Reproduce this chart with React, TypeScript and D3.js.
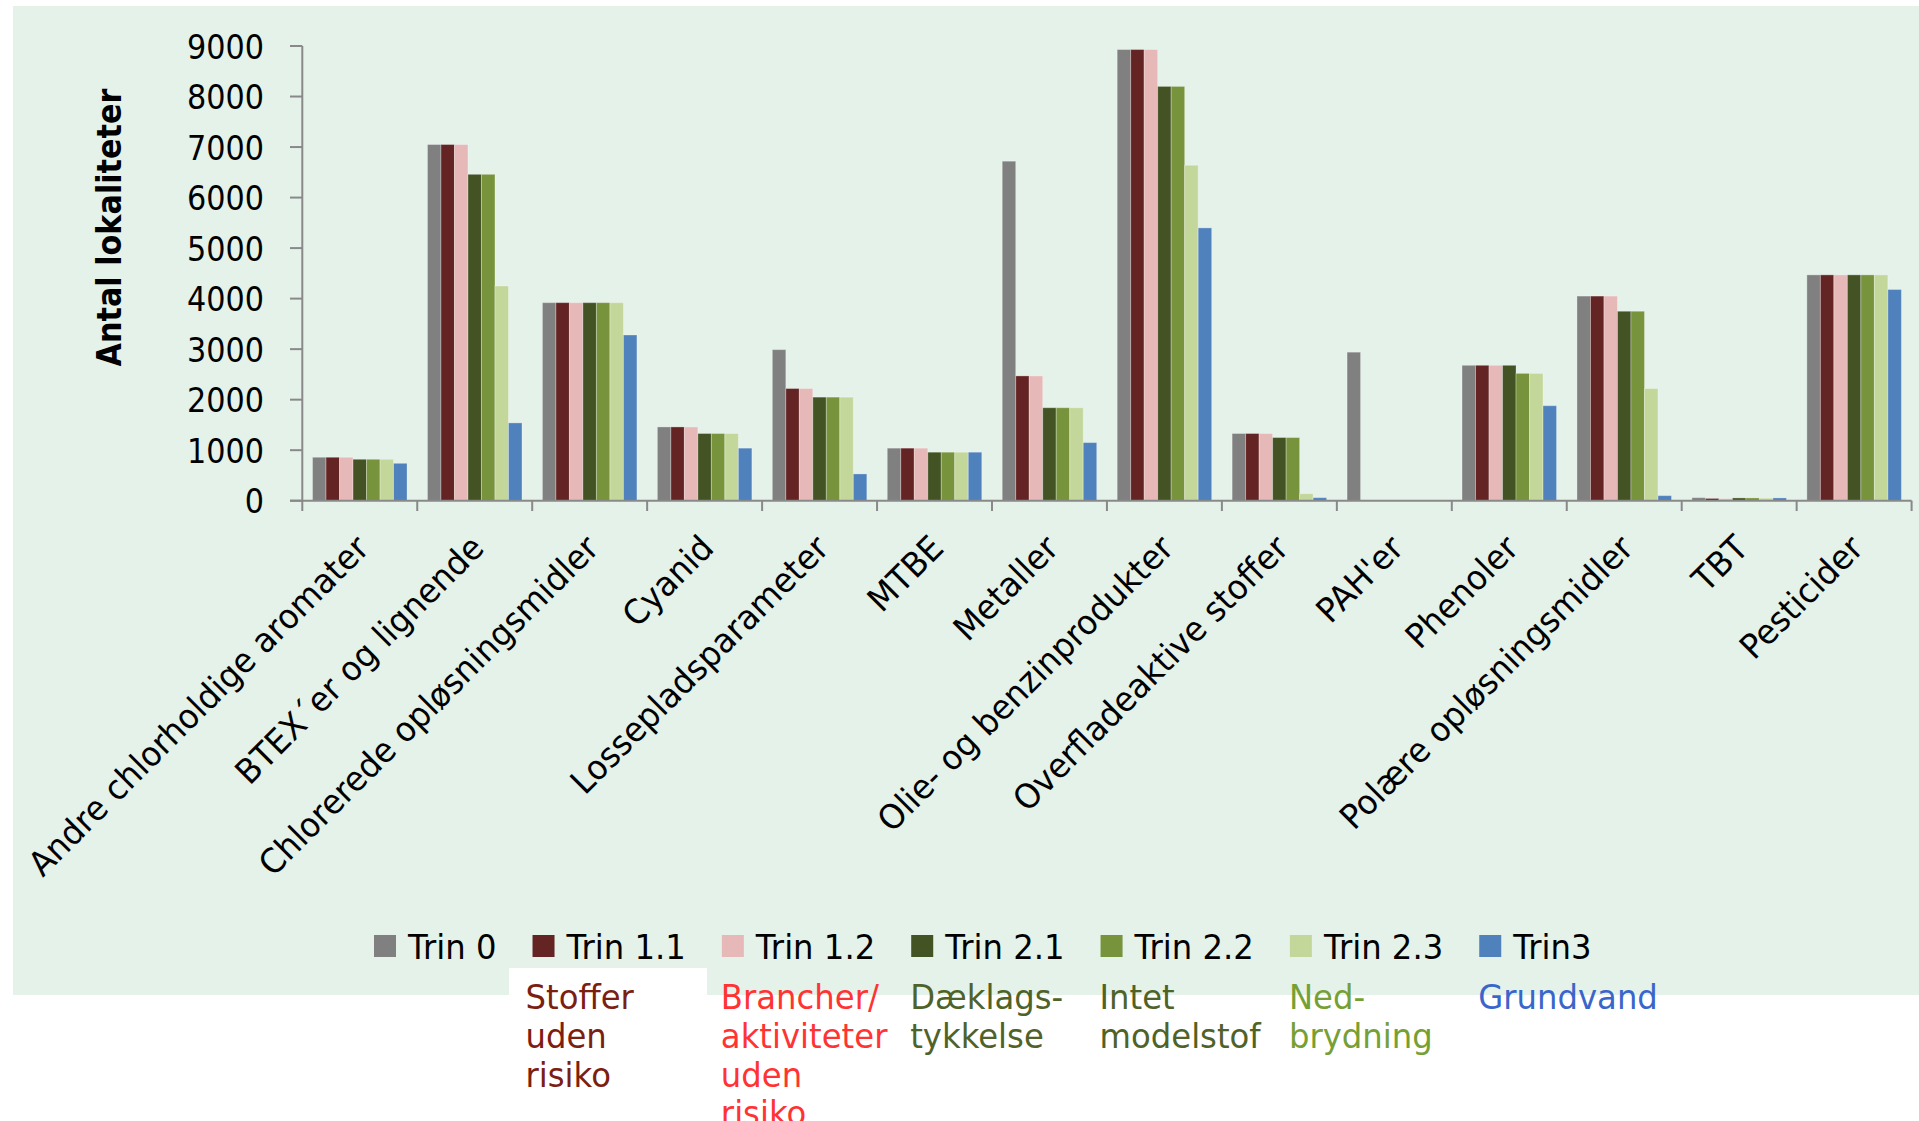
import * as d3 from "d3";

const categories = [
  "Andre chlorholdige aromater",
  "BTEX´er og lignende",
  "Chlorerede opløsningsmidler",
  "Cyanid",
  "Lossepladsparameter",
  "MTBE",
  "Metaller",
  "Olie- og benzinprodukter",
  "Overfladeaktive stoffer",
  "PAH'er",
  "Phenoler",
  "Polære opløsningsmidler",
  "TBT",
  "Pesticider",
];

const seriesNames = ["Trin 0", "Trin 1.1", "Trin 1.2", "Trin 2.1", "Trin 2.2", "Trin 2.3", "Trin3"];
const seriesColors = ["#808080", "#632423", "#E6B9B8", "#435323", "#77933C", "#C4D79B", "#4F81BD"];

const trin0 = [860, 7050, 3920, 1460, 2990, 1040, 6720, 8930, 1330, 2940, 2680, 4050, 60, 4470];
const trin11 = [860, 7050, 3920, 1460, 2220, 1040, 2470, 8930, 1330, 0, 2680, 4050, 45, 4470];
const trin12 = [860, 7050, 3920, 1460, 2220, 1040, 2470, 8930, 1330, 0, 2680, 4050, 40, 4470];
const trin21 = [820, 6460, 3920, 1330, 2050, 960, 1840, 8200, 1250, 0, 2680, 3750, 55, 4470];
const trin22 = [820, 6460, 3920, 1330, 2050, 960, 1840, 8200, 1250, 0, 2520, 3750, 55, 4470];
const trin23 = [820, 4250, 3920, 1330, 2050, 960, 1840, 6640, 140, 0, 2520, 2220, 50, 4470];
const trin3 = [740, 1540, 3280, 1040, 530, 960, 1150, 5400, 60, 0, 1880, 100, 55, 4180];
const seriesValues = [trin0, trin11, trin12, trin21, trin22, trin23, trin3];

const yTicks = [0, 1000, 2000, 3000, 4000, 5000, 6000, 7000, 8000, 9000];

// notes printed under legend entries Trin 1.1 .. Trin3
const notes = [
  ["Stoffer", "uden", "risiko"],
  ["Brancher/", "aktiviteter", "uden", "risiko"],
  ["Dæklags-", "tykkelse"],
  ["Intet", "modelstof"],
  ["Ned-", "brydning"],
  ["Grundvand"],
];
const noteColors = ["#7B2010", "#FF3333", "#4F6228", "#4F6228", "#76A034", "#3A66CC"];

const width = 1919;
const height = 1121;
const FONT = "'DejaVu Sans', Verdana, sans-serif";
const FS = 34;
const SX_NUM = 0.89; // digits, bold title
const SX_TXT = 0.95; // words

const x0 = 302.3;
const x1 = 1911.6;
const yBase = 500.7;
const yTop = 46;

function SText({ x, y, rotate = 0, sx = SX_TXT, anchor = "start", weight = "normal", fill = "#000", children }: any) {
  return (
    <g transform={`translate(${x},${y}) rotate(${rotate}) scale(${sx},1)`}>
      <text textAnchor={anchor} fontFamily={FONT} fontSize={FS} fontWeight={weight} fill={fill}>
        {children}
      </text>
    </g>
  );
}

function measure(s: string) {
  const ctx = document.createElement("canvas").getContext("2d");
  if (!ctx) return s.length * 18;
  ctx.font = `${FS}px 'DejaVu Sans'`;
  return ctx.measureText(s).width * SX_TXT;
}

export default function App() {
  const x = d3.scaleBand<string>().domain(categories).range([x0, x1]).padding(0);
  const y = d3.scaleLinear().domain([0, 9000]).range([yBase, yTop]);
  const bw = 13.5;
  const inner = d3
    .scaleBand<number>()
    .domain(d3.range(seriesNames.length))
    .range([0, bw * seriesNames.length]);
  const groupOffset = (x.bandwidth() - bw * seriesNames.length) / 2;

  // legend layout
  const legendX: number[] = [];
  let cx = 374;
  seriesNames.forEach((s) => {
    legendX.push(cx);
    cx += 22 + 12 + measure(s) + 36;
  });

  return (
    <>
      <style>{"body{margin:0}"}</style>
      <svg width={width} height={height} style={{ display: "block" }}>
        <rect x={0} y={0} width={width} height={height} fill="#fff" />
        <rect x={13} y={6} width={width - 13} height={989} fill="#E4F2EA" />
        <rect x={509} y={968} width={198} height={30} fill="#fff" />

        {/* bars */}
        {categories.map((c, ci) => (
          <g key={c} transform={`translate(${(x(c) ?? 0) + groupOffset},0)`}>
            {seriesValues.map((vals, si) =>
              vals[ci] > 0 ? (
                <rect
                  key={si}
                  x={inner(si)}
                  y={y(vals[ci])}
                  width={inner.bandwidth()}
                  height={yBase - y(vals[ci])}
                  fill={seriesColors[si]}
                  stroke="rgba(255,255,255,0.3)"
                  strokeWidth={1}
                />
              ) : null
            )}
          </g>
        ))}

        {/* y axis */}
        <line x1={x0} x2={x0} y1={yTop} y2={yBase} stroke="#898989" strokeWidth={2} />
        {yTicks.map((t) => (
          <g key={t}>
            <line x1={290} x2={x0} y1={y(t)} y2={y(t)} stroke="#898989" strokeWidth={2} />
            <SText x={264} y={y(t) + 12.5} sx={SX_NUM} anchor="end">
              {t}
            </SText>
          </g>
        ))}

        {/* x axis */}
        <line x1={290} x2={x1} y1={yBase} y2={yBase} stroke="#898989" strokeWidth={2} />
        {[...categories.map((c) => x(c) ?? 0), x1].map((px, i) => (
          <line key={i} x1={px} x2={px} y1={yBase} y2={511} stroke="#898989" strokeWidth={2} />
        ))}
        {categories.map((c) => (
          <SText key={c} x={(x(c) ?? 0) + x.bandwidth() / 2 + 11} y={550} rotate={-45} anchor="end">
            {c}
          </SText>
        ))}

        {/* y title */}
        <SText x={121} y={227.5} rotate={-90} sx={SX_NUM} anchor="middle" weight="bold">
          Antal lokaliteter
        </SText>

        {/* legend */}
        {seriesNames.map((s, i) => (
          <g key={s}>
            <rect x={legendX[i]} y={935} width={22} height={22} fill={seriesColors[i]} />
            <SText x={legendX[i] + 34} y={959}>
              {s}
            </SText>
          </g>
        ))}

        {/* notes */}
        {notes.map((lines, i) => (
          <g key={i}>
            {lines.map((l, li) => (
              <SText key={li} x={legendX[i + 1] - (i === 0 ? 7 : 1)} y={1009.3 + li * 38.7} fill={noteColors[i]}>
                {l}
              </SText>
            ))}
          </g>
        ))}
      </svg>
    </>
  );
}
